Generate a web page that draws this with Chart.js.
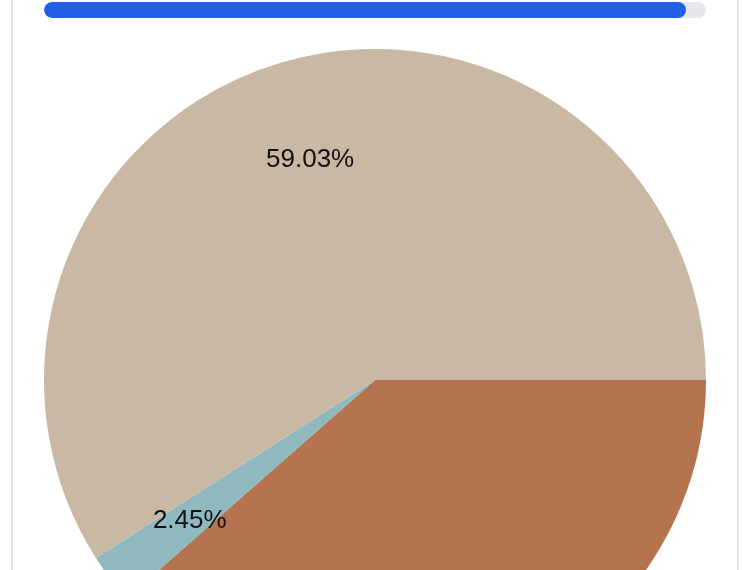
<!DOCTYPE html>
<html lang="en">
<head>
    <meta charset="UTF-8">
    <title>Share</title>
    <script src="https://cdn.jsdelivr.net/npm/chart.js"></script>
    <style>
        html, body {
            margin: 0;
            padding: 0;
            overflow: hidden;
            background: #fff;
            font-family: "Liberation Sans", Arial, sans-serif;
        }

        .card {
            position: absolute;
            left: 11px;
            top: -30px;
            width: 662px;
            height: 800px;
            padding: 0 31px;
            border-left: 2px solid #e0e3e8;
            border-right: 2px solid #e0e3e8;
        }

        .progress {
            margin-top: 32px;
            height: 16px;
            border-radius: 8px;
            background: #e5e7eb;
            overflow: hidden;
        }

        .progress-fill {
            width: 97%;
            height: 100%;
            border-radius: 8px;
            background: #235ee6;
        }

        .chart-wrapper {
            margin-top: 31px;
            width: 662px;
            height: 662px;
        }
    </style>
</head>
<body>
    <div class="card">
        <div class="progress"><div class="progress-fill"></div></div>
        <div class="chart-wrapper">
            <canvas id="pieChart" width="662" height="662"></canvas>
        </div>
    </div>

    <script>
        const categories = ['Segment A', 'Segment B', 'Segment C'];
        const shares = [38.52, 2.45, 59.03];
        const sliceColors = ['#b5734f', '#8fb9bf', '#c8b8a4'];

        // draw percentage labels at 70% of the radius
        const pctLabels = {
            id: 'pctLabels',
            afterDatasetsDraw(chart) {
                const ctx = chart.ctx;
                const data = chart.data.datasets[0].data;
                const total = data.reduce((a, b) => a + b, 0);
                ctx.save();
                ctx.font = '26px "Liberation Sans", Arial, sans-serif';
                ctx.fillStyle = '#111';
                ctx.textAlign = 'center';
                ctx.textBaseline = 'middle';
                chart.getDatasetMeta(0).data.forEach((arc, i) => {
                    const p = arc.getProps(['x', 'y', 'startAngle', 'endAngle', 'outerRadius'], true);
                    const mid = (p.startAngle + p.endAngle) / 2;
                    const r = p.outerRadius * 0.7;
                    const pct = (data[i] / total * 100).toFixed(2) + '%';
                    ctx.fillText(pct, p.x + Math.cos(mid) * r, p.y + Math.sin(mid) * r + 2);
                });
                ctx.restore();
            }
        };

        new Chart(document.getElementById('pieChart'), {
            type: 'pie',
            data: {
                labels: categories,
                datasets: [{
                    data: shares,
                    backgroundColor: sliceColors,
                    borderWidth: 0
                }]
            },
            options: {
                responsive: false,
                animation: false,
                rotation: 90,
                plugins: {
                    legend: { display: false },
                    tooltip: { enabled: false }
                }
            },
            plugins: [pctLabels]
        });
    </script>
</body>
</html>
